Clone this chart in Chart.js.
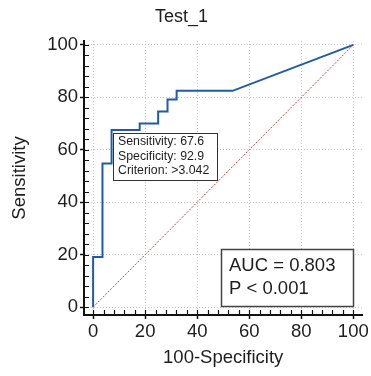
<!DOCTYPE html>
<html>
<head>
<meta charset="utf-8">
<title>Test_1</title>
<script src="https://cdn.jsdelivr.net/npm/chart.js@4.4.1/dist/chart.umd.min.js"></script>
<style>
  body { margin: 0; background: #fff; }
  #wrap { width: 371px; height: 376px; position: relative; }
</style>
</head>
<body>
<div id="wrap"><canvas id="grafico"></canvas></div>
<script>
// dados da curva ROC
var fpr = [0, 0, 3.6, 3.6, 7.1, 7.1, 17.9, 17.9, 25, 25, 28.6, 28.6, 32.1, 32.1, 53.6, 100];
var sens = [0, 19.1, 19.1, 54.8, 54.8, 67.6, 67.6, 70, 70, 74.6, 74.6, 79.2, 79.2, 82.5, 82.5, 100];
var refX = [0, 100];
var refY = [0, 100];
var majorTicks = [0, 20, 40, 60, 80, 100];
var minorStep = 4;
var criterionPoint = [7.1, 67.6];
var criterionText = ['Sensitivity: 67.6', 'Specificity: 92.9', 'Criterion: >3.042'];
var aucText = ['AUC = 0.803', 'P < 0.001'];

var fonte = '"Liberation Sans", Arial, sans-serif';
var corTexto = '#1e1e1e';

var tickValues = [];
for (var v = majorTicks[0]; v <= majorTicks[majorTicks.length - 1]; v += minorStep) tickValues.push(v);

function isMajor(v) { return majorTicks.indexOf(v) !== -1; }

function eixo(titulo, titlePadding, min, max) {
    return {
        type: 'linear',
        min: min,
        max: max,
        afterBuildTicks: function (s) { s.ticks = tickValues.map(function (t) { return { value: t }; }); },
        ticks: {
            autoSkip: false,
            maxRotation: 0,
            padding: 2,
            color: corTexto,
            font: { family: fonte, size: 18.5 },
            callback: function (val) { return isMajor(val) ? String(val) : ''; }
        },
        grid: {
            color: function (ctx) { return ctx.tick && isMajor(ctx.tick.value) ? '#c4c4c4' : 'rgba(0,0,0,0)'; },
            lineWidth: 1,
            tickLength: 4,
            tickWidth: 1.5,
            tickColor: function (ctx) { return ctx.tick && isMajor(ctx.tick.value) ? '#111' : 'rgba(0,0,0,0)'; }
        },
        border: { display: true, color: '#111', width: 2, dash: [1, 2] },
        title: {
            display: true,
            text: titulo,
            color: corTexto,
            font: { family: fonte, size: 18.5 },
            padding: titlePadding
        }
    };
}

// ticks menores para dentro + caixas de texto
var extras = {
    id: 'extras',
    afterDatasetsDraw: function (chart) {
        var ctx = chart.ctx, a = chart.chartArea;
        var sx = chart.scales.x, sy = chart.scales.y;
        ctx.save();
        ctx.strokeStyle = '#111';
        ctx.lineWidth = 1.2;
        ctx.beginPath();
        tickValues.forEach(function (t) {
            var px = Math.round(sx.getPixelForValue(t)) + 0.5;
            ctx.moveTo(px, a.bottom);
            ctx.lineTo(px, a.bottom - 5);
            var py = Math.round(sy.getPixelForValue(t)) + 0.5;
            ctx.moveTo(a.left, py);
            ctx.lineTo(a.left + 5, py);
        });
        ctx.stroke();

        // caixa do critério
        var bx = Math.round(sx.getPixelForValue(criterionPoint[0])) + 1.5;
        var by = Math.round(sy.getPixelForValue(criterionPoint[1])) + 3.5;
        ctx.fillStyle = '#fff';
        ctx.fillRect(bx, by, 104, 47);
        ctx.strokeStyle = '#333';
        ctx.lineWidth = 1;
        ctx.strokeRect(bx, by, 104, 47);
        ctx.fillStyle = corTexto;
        ctx.font = '12.3px ' + fonte;
        ctx.textBaseline = 'middle';
        ctx.textAlign = 'left';
        criterionText.forEach(function (linha, i) {
            ctx.fillText(linha, bx + 4.5, by + 8.5 + i * 14.5);
        });

        // caixa da AUC
        var rx = sx.getPixelForValue(100), ry = sy.getPixelForValue(0);
        var w = 132, h = 57;
        var x0 = Math.round(rx - w) + 0.5, y0 = Math.round(ry - h) - 0.5;
        ctx.fillStyle = '#fff';
        ctx.fillRect(x0, y0, w, h);
        ctx.strokeStyle = '#444';
        ctx.lineWidth = 1.5;
        ctx.strokeRect(x0, y0, w, h);
        ctx.fillStyle = corTexto;
        ctx.font = '18.5px ' + fonte;
        aucText.forEach(function (linha, i) {
            ctx.fillText(linha, x0 + 7.5, y0 + 16 + i * 23);
        });
        ctx.restore();
    }
};

var pontos = fpr.map(function (x, i) { return { x: x, y: sens[i] }; });
var diag = refX.map(function (x, i) { return { x: x, y: refY[i] }; });

new Chart(document.getElementById('grafico'), {
    type: 'line',
    data: {
        datasets: [
            {
                label: 'Test_1',
                data: pontos,
                borderColor: '#1f5ca6',
                borderWidth: 2,
                pointRadius: 0,
                tension: 0,
                fill: false
            },
            {
                label: 'Referência',
                data: diag,
                borderColor: '#cc3f3f',
                borderWidth: 1,
                borderDash: [2, 1.5],
                pointRadius: 0,
                fill: false
            }
        ]
    },
    options: {
        responsive: true,
        maintainAspectRatio: false,
        animation: false,
        layout: { padding: { top: 0, right: 8, bottom: 0, left: 0 } },
        plugins: {
            legend: { display: false },
            tooltip: { enabled: false },
            title: {
                display: true,
                text: 'Test_1',
                color: corTexto,
                font: { family: fonte, size: 18, weight: 'normal' },
                padding: { top: 6, bottom: 13.4 }
            }
        },
        scales: {
            x: Object.assign(eixo('100-Specificity', { top: 0, bottom: 6.5 }, -3.5, 103.5), {
                afterFit: function (s) { s.height = 61; }
            }),
            y: Object.assign(eixo('Sensitivity', { top: 9, bottom: 0 }, -3, 101.5), {
                afterFit: function (s) { s.width = 84; }
            })
        }
    },
    plugins: [extras]
});
</script>
</body>
</html>
